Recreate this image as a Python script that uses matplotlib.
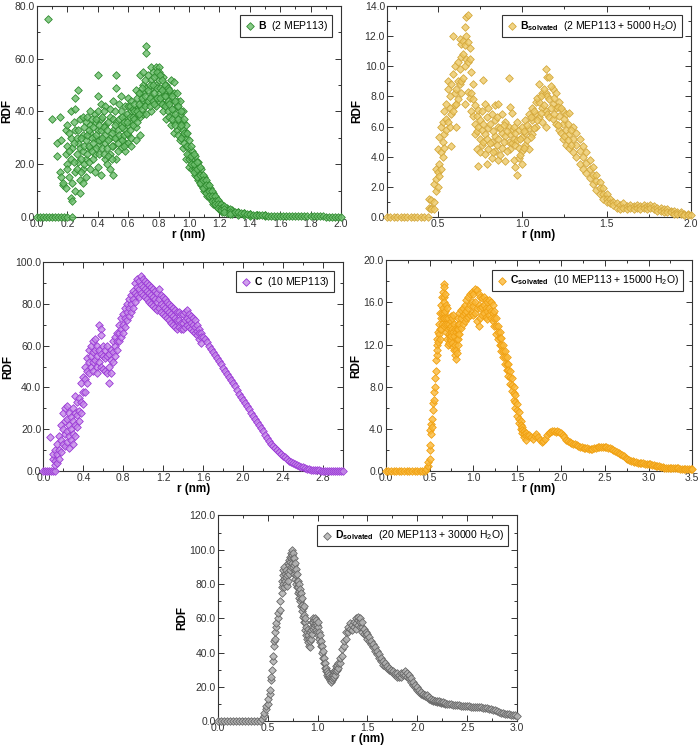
import numpy as np
import matplotlib
matplotlib.use("Agg")
import matplotlib.pyplot as plt
from matplotlib.ticker import MultipleLocator, FormatStrFormatter

plt.rcParams['font.family'] = ['Liberation Sans', 'DejaVu Sans']
plt.rcParams['mathtext.fontset'] = 'custom'
plt.rcParams['mathtext.rm'] = 'Liberation Sans'
plt.rcParams['mathtext.bf'] = 'Liberation Sans:bold'

# ---- panel B (2 MEP113) ----
b_zero_r = [0.00, 0.02, 0.04, 0.06, 0.08, 0.10, 0.12, 0.14, 0.16, 0.18, 0.20]
b_bins = [
    (0.07, [75]), (0.10, [37]), (0.13, [28, 23]), (0.15, [38, 17]),
    (0.16, [15, 29]), (0.17, [12, 13]), (0.19, [11, 24, 33]),
    (0.20, [20, 18, 35, 27]), (0.22, [7, 30, 40, 22]), (0.23, [6, 13, 26, 0]),
    (0.25, [45, 41, 17, 10, 33]), (0.27, [48, 33, 21, 28]),
    (0.28, [14, 9, 26, 37]), (0.30, [38, 25, 18, 13, 31]),
    (0.32, [36, 29, 22, 15]), (0.35, [32, 26, 40, 18, 35]),
    (0.38, [30, 36, 24, 17, 39]), (0.40, [54, 46, 40, 27, 19, 33]),
    (0.42, [33, 37, 16, 29, 43]), (0.45, [42, 35, 28, 22, 31]),
    (0.48, [38, 30, 18, 24, 41]), (0.50, [44, 33, 27, 16, 37]),
    (0.52, [54, 49, 36, 22, 30]), (0.55, [46, 40, 30, 26, 35]),
    (0.58, [38, 33, 25, 28, 42]), (0.60, [45, 42, 35, 28, 31]),
    (0.62, [40, 30, 36, 27, 44]), (0.65, [48, 41, 34, 29, 38]),
    (0.68, [54, 47, 42, 38, 31]), (0.70, [55, 50, 44, 39, 47]),
    (0.72, [65, 62, 49, 43, 39]), (0.75, [57, 52, 46, 40, 49]),
    (0.78, [57, 54, 50, 45, 42]), (0.80, [57, 52, 47, 44, 55]),
    (0.83, [53, 49, 46, 40, 43]), (0.85, [50, 46, 43, 37, 48]),
    (0.88, [52, 44, 39, 35, 47]), (0.90, [51, 47, 41, 36, 32]),
    (0.92, [47, 42, 38, 33, 44]), (0.94, [44, 39, 34, 29, 36]),
    (0.96, [40, 36, 31, 26, 33]), (0.98, [35, 30, 27, 22, 32]),
    (1.00, [29, 26, 22, 19, 24]), (1.02, [25, 22, 18, 20]),
    (1.04, [23, 20, 16, 18]), (1.06, [21, 17, 14, 15]),
    (1.08, [18, 15, 12, 13]), (1.10, [15, 13, 10, 11]),
    (1.12, [13, 10, 8, 11]), (1.14, [11, 9, 7, 8]), (1.16, [9, 7, 5, 6]),
    (1.18, [7, 5, 4, 6]), (1.20, [5.5, 4, 3]), (1.22, [4.5, 3, 2]),
    (1.25, [3.5, 2.5, 1.5]), (1.28, [2.5, 1.8, 1.0]),
    (0.21, [25, 32, 15]), (0.24, [28, 36, 21]), (0.26, [24, 18, 30]),
    (0.29, [22, 30, 17]), (0.31, [27, 34, 20]), (0.33, [24, 31, 38]),
    (0.34, [27, 21, 33]), (0.36, [25, 30, 37]), (0.37, [22, 28, 34]),
    (0.39, [26, 31, 37]), (0.41, [24, 35, 29]), (0.43, [30, 26, 38]),
    (0.44, [24, 34, 40]), (0.46, [26, 33, 20]), (0.47, [29, 36, 23]),
    (0.49, [32, 27, 22]), (0.51, [30, 35, 40]), (0.53, [33, 28, 25]),
    (0.54, [37, 31, 43]), (0.56, [34, 29, 38]), (0.57, [36, 31, 27]),
    (0.59, [32, 39, 36]), (0.61, [38, 33, 42]), (0.63, [41, 35, 38]),
    (0.64, [43, 37, 40]), (0.66, [45, 40, 36]), (0.67, [47, 43, 39]),
    (0.69, [49, 45, 41]), (0.71, [52, 46, 42]), (0.73, [54, 48, 44]),
    (0.74, [50, 45, 42]), (0.76, [55, 50, 44]), (0.77, [53, 47, 43]),
    (0.79, [55, 49, 45]), (0.81, [54, 49, 45]), (0.82, [52, 48, 43]),
    (0.84, [50, 46, 42]), (0.86, [49, 44, 40]), (0.87, [48, 43, 38]),
    (0.89, [46, 41, 37]), (0.91, [44, 39, 35]), (0.93, [42, 37, 31]),
    (0.95, [40, 35, 30]), (0.97, [37, 32, 28]), (0.99, [32, 27, 24]),
    (1.01, [27, 23, 20]), (1.03, [24, 20, 17]), (1.05, [21, 18, 15]),
    (1.07, [19, 16, 13]), (1.09, [16, 14, 11]), (1.11, [14, 12, 9]),
    (1.13, [12, 10, 8]), (1.15, [10, 8, 6]), (1.17, [8, 6, 5]),
    (1.19, [6.5, 5, 3.5]), (1.21, [5, 3.5, 2.5]), (1.23, [4, 3, 2]),
    (1.27, [3, 2, 1.2]), (1.32, [2, 1.4, 0.9]), (1.36, [1.5, 1.0, 0.6]),
    (1.40, [1.2, 0.8, 0.5]), (1.45, [0.9, 0.6]), (1.50, [0.7, 0.4]),
]
b_tail_start = 1.30
b_tail = [2.0, 1.7, 1.5, 1.3, 1.1, 1.0, 0.9, 0.8, 0.7, 0.6, 0.55, 0.5, 0.5,
          0.45, 0.4, 0.4, 0.35, 0.35, 0.3, 0.3, 0.3, 0.3, 0.25, 0.25, 0.25,
          0.2, 0.2, 0.2, 0.2, 0.2, 0.15, 0.15, 0.15, 0.1, 0.1, 0.1]

# ---- panel B solvated (2 MEP113 + 5000 H2O) ----
bs_zero_r = [0.20, 0.22, 0.24, 0.26, 0.28, 0.30, 0.32, 0.34, 0.36, 0.38,
             0.40, 0.42, 0.44]
bs_bins = [
    (0.45, [0.6, 1.2]), (0.46, [0.6, 1.1, 0.5]), (0.48, [0.5, 1.0, 2.2]),
    (0.49, [2.5, 3.2, 1.7]), (0.50, [3.0, 2.0, 4.5]), (0.51, [3.5, 5.3, 2.7]),
    (0.52, [4.3, 6.0, 3.2]), (0.53, [5.0, 4.0, 6.3]), (0.54, [5.5, 7.0, 4.6]),
    (0.55, [6.5, 7.5, 5.8]), (0.56, [8.5, 6.3, 9.0]), (0.57, [7.2, 8.0, 6.0]),
    (0.58, [8.8, 6.8, 4.7]), (0.59, [12.0, 9.5, 7.0]), (0.60, [10.0, 8.2, 7.4]),
    (0.61, [8.5, 7.5, 6.0]), (0.62, [10.3, 9.0, 7.8]), (0.63, [11.8, 9.8, 8.8]),
    (0.64, [11.5, 10.6, 9.0, 8.2]), (0.65, [11.7, 10.8, 9.2]),
    (0.66, [12.6, 11.4, 10.0, 7.5]), (0.67, [13.3, 12.0, 10.5]),
    (0.68, [13.4, 11.6, 10.3, 8.3]), (0.69, [11.2, 10.5, 7.9]),
    (0.70, [9.6, 8.2, 7.0]), (0.71, [8.8, 6.7, 7.8]), (0.72, [7.4, 6.2, 5.5]),
    (0.73, [6.7, 5.7, 4.5]), (0.74, [7.1, 6.0, 3.4]), (0.75, [6.4, 5.2, 4.3]),
    (0.76, [7.0, 5.8, 4.8]), (0.77, [9.1, 6.2, 5.0]), (0.78, [7.5, 5.5, 4.2]),
    (0.79, [6.6, 5.2, 3.5]), (0.80, [7.2, 5.9, 4.5]), (0.82, [6.8, 5.0, 3.9]),
    (0.84, [7.4, 6.4, 5.4, 4.4]), (0.86, [7.5, 6.0, 5.2, 3.8]),
    (0.88, [6.8, 5.6, 4.6]), (0.90, [6.3, 5.4, 3.7]), (0.92, [9.2, 6.0, 5.0]),
    (0.93, [7.3, 5.5, 4.5]), (0.94, [6.9, 5.8, 4.9]), (0.95, [6.0, 5.2, 3.8]),
    (0.96, [5.6, 4.8, 3.3]), (0.97, [6.3, 5.1, 2.8]), (0.98, [5.8, 4.6, 3.9]),
    (1.00, [6.0, 5.3, 4.4, 3.5]), (1.02, [6.4, 5.6, 4.8]),
    (1.04, [6.8, 5.9, 4.5]), (1.06, [7.2, 6.4, 5.5]), (1.08, [7.6, 6.8, 6.0]),
    (1.10, [8.8, 7.6, 6.6]), (1.12, [8.2, 7.2, 6.3]),
    (1.14, [9.8, 8.2, 7.0, 6.0]), (1.15, [9.3, 8.0, 6.8]),
    (1.16, [9.3, 7.8, 6.6]), (1.18, [8.5, 7.5, 6.5]), (1.20, [8.2, 7.2, 6.2]),
    (1.22, [7.6, 6.7, 5.8]), (1.24, [7.0, 6.2, 5.2]), (1.26, [6.8, 5.8, 4.8]),
    (1.28, [6.9, 5.5, 4.6]), (1.30, [6.0, 5.2, 4.3]), (1.32, [5.6, 4.8, 4.0]),
    (1.34, [5.2, 4.4, 3.5]), (1.36, [4.7, 4.0, 3.2]), (1.38, [4.3, 3.6, 2.9]),
    (1.40, [3.8, 3.2, 2.6]), (1.42, [3.3, 2.8, 2.2]), (1.44, [2.8, 2.4, 1.8]),
    (1.46, [2.3, 1.9, 1.5]), (1.48, [1.9, 1.5, 1.2]), (1.50, [1.5, 1.2, 1.0]),
    (1.52, [1.2, 0.9]), (1.54, [1.0, 0.8]), (1.56, [0.9, 0.6]),
    (1.58, [0.8, 0.5]), (1.60, [0.9, 0.6]), (1.62, [0.7, 0.5]),
    (1.64, [0.8, 0.6]), (1.66, [0.7, 0.5]), (1.68, [0.8, 0.6]),
    (1.70, [0.7, 0.5]), (1.72, [0.8, 0.6]), (1.74, [0.7, 0.5]),
    (1.76, [0.8, 0.6]), (1.78, [0.7, 0.5]), (1.80, [0.6, 0.4]),
    (1.82, [0.6, 0.4]), (1.84, [0.5, 0.3]), (1.86, [0.5, 0.3]),
    (1.88, [0.4, 0.3]), (1.90, [0.4, 0.2]), (1.92, [0.3, 0.2]),
    (1.94, [0.3, 0.2]), (1.96, [0.2, 0.1]), (1.98, [0.2, 0.1]), (2.00, [0.1]),
    (0.81, [6.2, 4.9]), (0.83, [5.7, 4.3]), (0.85, [6.6, 4.8]),
    (0.87, [5.9, 4.1]), (0.89, [6.1, 5.0]), (0.91, [5.7, 4.4]),
    (0.99, [5.2, 4.1]), (1.01, [5.7, 4.6]), (1.03, [6.1, 5.1]),
    (1.05, [6.6, 5.3]), (1.07, [7.0, 5.9]), (1.09, [7.9, 6.4]),
    (1.11, [8.0, 6.9]), (1.13, [8.5, 7.4]), (1.17, [8.7, 7.2]),
    (1.19, [7.9, 6.8]), (1.21, [7.3, 6.1]), (1.23, [7.2, 5.6]),
    (1.25, [6.5, 5.4]), (1.27, [6.2, 5.1]), (1.29, [5.8, 4.8]),
]

# ---- panel C (10 MEP113) ----
c_zero_r = [0.00, 0.02, 0.04, 0.06, 0.08, 0.10, 0.12]
c_bins = [
    (0.07, [16.5]), (0.10, [6, 8]), (0.12, [5, 3, 10]), (0.14, [4, 8, 13]),
    (0.16, [17, 10, 6]), (0.18, [22, 15, 9]), (0.20, [28, 20, 13]),
    (0.22, [30, 24, 18, 12]), (0.24, [31, 25, 19, 14]),
    (0.26, [28, 22, 17, 11]), (0.28, [26, 20, 15]),
    (0.30, [30, 24, 18, 13]), (0.32, [36, 28, 22, 17]), (0.34, [33, 27, 21]),
    (0.36, [35, 29, 24]), (0.38, [42, 33, 28]), (0.40, [45, 38, 32]),
    (0.42, [50, 44, 38]), (0.44, [54, 48, 42]), (0.46, [58, 52, 47]),
    (0.48, [60, 55, 50]), (0.50, [62, 57, 52, 48]), (0.52, [63, 58, 53]),
    (0.54, [60, 55, 50, 47]), (0.56, [70, 58, 52]), (0.58, [68, 65, 56, 50]),
    (0.60, [60, 55, 49]), (0.62, [58, 54, 48]), (0.64, [60, 55, 47]),
    (0.66, [56, 50, 42]), (0.68, [58, 53, 47]), (0.70, [62, 57, 52]),
    (0.72, [64, 60, 55]), (0.74, [66, 62, 58]), (0.76, [70, 66, 62]),
    (0.78, [73, 68, 64]), (0.80, [75, 70, 66]), (0.82, [78, 73, 69]),
    (0.84, [80, 76, 72]), (0.86, [82, 78, 74]), (0.88, [84, 80, 76]),
    (0.90, [86, 82, 78]), (0.92, [90, 85, 81]), (0.94, [92, 88, 84]),
    (0.96, [91, 87, 83]), (0.98, [93, 89, 85]), (1.00, [92, 88, 84]),
    (1.02, [91, 87, 83]), (1.04, [90, 86, 82]), (1.06, [89, 85, 81]),
    (1.08, [88, 84, 80]), (1.10, [87, 83, 79]), (1.12, [86, 82, 78]),
    (1.14, [85, 81, 77]), (1.16, [87, 82, 78]), (1.18, [84, 80, 76]),
    (1.20, [83, 79, 75]), (1.22, [82, 78, 74]), (1.24, [81, 77, 73]),
    (1.26, [80, 76, 72]), (1.28, [79, 75, 71]), (1.30, [78, 74, 70]),
    (1.32, [77, 73, 69]), (1.34, [76, 72, 68]), (1.36, [76, 72, 69]),
    (1.38, [75, 71, 68]), (1.40, [75, 71, 68]), (1.42, [76, 72, 69]),
    (1.44, [77, 73, 70]), (1.46, [75, 72, 69]), (1.48, [74, 71, 68]),
    (1.50, [73, 70, 67]), (1.52, [72, 69, 66]), (1.54, [70, 67, 65]),
    (1.56, [68, 66, 63]), (1.58, [66, 64, 61]),
]
c_tail_start = 1.60
c_tail = [64, 63, 61.5, 60, 58.5, 57, 55.5, 54, 52.5, 51, 49.5, 48, 46.5, 45,
          43.5, 42, 40.5, 39, 37, 35.5, 34, 32.5, 31, 29.5, 28, 26.5, 25, 23.5,
          22, 20.5, 19, 17.5, 16, 14.5, 13.2, 12, 11, 10, 9, 8.2, 7.4, 6.6,
          5.8, 5.1, 4.5, 3.9, 3.4, 2.9, 2.5, 2.1, 1.8, 1.5, 1.2, 1.0, 0.8,
          0.7, 0.6, 0.5, 0.4, 0.35, 0.3, 0.3, 0.25, 0.2, 0.2, 0.2, 0.15, 0.15,
          0.1, 0.1, 0.1]

# ---- panel C solvated (10 MEP113 + 15000 H2O) ----
cs_zero_r = [0.00, 0.03, 0.06, 0.09, 0.12, 0.15, 0.18, 0.21, 0.24, 0.27,
             0.30, 0.33, 0.36, 0.39, 0.42, 0.45]
cs_bins = [
    (0.46, [0.2]), (0.48, [0.5, 0.9]), (0.50, [1.2, 2.0]), (0.51, [2.5, 3.9]),
    (0.52, [3.5, 4.5]), (0.53, [5.0, 4.2]), (0.54, [5.8, 6.5]),
    (0.55, [6.8, 7.5]), (0.56, [8.0, 8.8]), (0.57, [9.5, 10.5]),
    (0.58, [11.0, 12.0]), (0.59, [12.5, 11.5]), (0.60, [13.2, 12.3]),
    (0.61, [14.0, 13.0]), (0.62, [15.0, 13.5, 12.5]),
    (0.63, [15.8, 14.5, 13.5]), (0.64, [16.5, 15.0, 14.0]),
    (0.65, [17.0, 15.5, 14.5]), (0.66, [17.8, 16.5, 15.0]),
    (0.67, [17.5, 16.0, 14.5, 13.8]), (0.68, [16.8, 15.2, 14.0]),
    (0.69, [15.8, 14.5, 13.2]), (0.70, [15.5, 14.0, 12.5]),
    (0.71, [14.5, 13.5, 12.0]), (0.72, [14.0, 13.0, 12.2]),
    (0.73, [13.6, 12.8, 12.5]), (0.74, [14.2, 13.2, 12.4]),
    (0.75, [14.7, 13.8, 12.8]), (0.76, [14.5, 13.5, 12.2]),
    (0.77, [14.8, 13.2, 11.8]), (0.78, [14.0, 12.8, 11.5]),
    (0.79, [13.5, 12.0, 11.0]), (0.80, [13.2, 11.5, 10.6]),
    (0.81, [13.5, 12.5, 11.2]), (0.82, [14.0, 13.0, 12.0]),
    (0.83, [14.5, 13.5, 12.5]), (0.84, [15.0, 14.0, 13.0]),
    (0.86, [15.3, 14.5, 13.6]), (0.88, [15.5, 14.8, 14.0]),
    (0.90, [15.8, 15.0, 14.2]), (0.92, [16.2, 15.2, 14.5]),
    (0.94, [16.5, 15.5, 14.6]), (0.96, [16.8, 15.8, 14.8]),
    (0.98, [17.0, 16.0, 15.0]), (1.00, [16.8, 15.7, 14.8]),
    (1.02, [17.3, 16.0, 15.0]), (1.04, [17.2, 15.5, 14.2]),
    (1.06, [16.8, 15.8, 13.8]), (1.08, [16.5, 15.5, 14.5]),
    (1.10, [16.4, 15.6, 14.8]), (1.12, [16.5, 15.8, 15.0]),
    (1.14, [16.2, 15.5, 14.6]), (1.16, [16.0, 15.2, 14.4]),
    (1.18, [16.2, 15.5, 14.8]), (1.20, [16.0, 15.2, 14.5]),
    (1.22, [15.8, 15.0, 14.2]), (1.24, [15.2, 14.5, 13.8]),
    (1.26, [14.5, 13.8, 13.0]), (1.28, [13.8, 13.2, 12.5]),
    (1.30, [13.2, 12.6, 12.0]), (1.32, [12.6, 12.0, 11.4]),
    (1.34, [12.0, 11.4, 10.8]), (1.36, [11.4, 10.8, 10.2]),
    (1.38, [10.8, 10.2, 9.6]), (1.40, [10.2, 9.6, 9.0]),
    (1.42, [9.5, 8.9, 8.3]), (1.44, [8.8, 8.2, 7.6]),
    (1.46, [8.0, 7.4, 6.8]), (1.48, [7.2, 6.6, 6.0]),
    (1.50, [6.4, 5.8, 5.2]), (1.52, [5.6, 5.0, 4.6]),
    (1.54, [4.8, 4.4, 4.0]), (1.56, [4.2, 3.9, 3.6]),
    (1.58, [3.8, 3.5, 3.2]), (1.60, [3.6, 3.3, 3.0]),
]
cs_tail_start = 1.62
cs_tail = [3.3, 3.4, 3.2, 3.1, 3.3, 3.5, 3.2, 3.0, 2.8, 2.9, 3.1, 3.4, 3.6,
           3.7, 3.8, 3.8, 3.7, 3.8, 3.7, 3.6, 3.4, 3.2, 3.0, 2.9, 2.8, 2.7,
           2.6, 2.6, 2.5, 2.4, 2.3, 2.3, 2.2, 2.2, 2.2, 2.1, 2.1, 2.1, 2.2,
           2.2, 2.3, 2.3, 2.3, 2.3, 2.3, 2.3, 2.2, 2.2, 2.1, 2.0, 1.9, 1.8,
           1.7, 1.6, 1.5, 1.4, 1.3, 1.2, 1.1, 1.0, 0.95, 0.9, 0.85, 0.8, 0.8,
           0.75, 0.75, 0.7, 0.7, 0.7, 0.65, 0.6, 0.55, 0.5, 0.5, 0.45, 0.4,
           0.4, 0.35, 0.35, 0.3, 0.3, 0.3, 0.3, 0.3, 0.3, 0.3, 0.25, 0.25,
           0.25, 0.2, 0.2, 0.2, 0.2, 0.2]

# ---- panel D solvated (20 MEP113 + 30000 H2O) ----
d_zero_r = [0.00, 0.03, 0.06, 0.09, 0.12, 0.15, 0.18, 0.21, 0.24, 0.27,
            0.30, 0.33, 0.36, 0.39, 0.42]
d_bins = [
    (0.44, [1]), (0.46, [3, 5]), (0.48, [7, 9]), (0.50, [10, 13]),
    (0.52, [16, 18]), (0.53, [24, 26]), (0.54, [30]), (0.55, [35, 38]),
    (0.56, [44, 47]), (0.57, [48, 52]), (0.58, [55, 57]), (0.60, [60, 63]),
    (0.62, [65, 70]), (0.64, [75, 78, 82]), (0.65, [80, 85, 88]),
    (0.66, [78, 83, 90]), (0.67, [82, 86]), (0.68, [80, 84, 88]),
    (0.69, [79, 85]), (0.70, [82, 87, 92]), (0.71, [86, 91, 94]),
    (0.72, [88, 93, 96]), (0.73, [90, 95, 98]), (0.74, [92, 97, 100]),
    (0.75, [90, 95, 98]), (0.76, [86, 91, 95]), (0.77, [83, 88, 92]),
    (0.78, [80, 85, 89]), (0.79, [78, 82, 86]), (0.80, [75, 78, 82]),
    (0.81, [72, 76, 80]), (0.82, [70, 74, 77]), (0.83, [67, 71, 75]),
    (0.84, [64, 68, 72]), (0.85, [61, 66]), (0.86, [58, 62, 67]),
    (0.87, [53, 58, 60]), (0.88, [50, 55]), (0.89, [48, 52]),
    (0.90, [46, 50, 54]), (0.91, [44, 48]), (0.92, [43, 47, 52]),
    (0.93, [48, 53]), (0.94, [51, 55, 58]), (0.95, [54, 58, 60]),
    (0.96, [55, 59]), (0.97, [56, 60]), (0.98, [53, 57, 59]),
    (0.99, [52, 56]), (1.00, [50, 55, 58]), (1.01, [48, 52]),
    (1.02, [46, 50]), (1.03, [44, 47]), (1.04, [40, 44]), (1.05, [37, 41]),
    (1.06, [34, 37]), (1.07, [31, 34]), (1.08, [29, 31]), (1.09, [27, 29]),
    (1.10, [26, 28]), (1.11, [25, 27]), (1.12, [24, 26]), (1.13, [23, 25]),
    (1.14, [24, 26]), (1.15, [25, 27]), (1.16, [26, 29]), (1.17, [27, 30]),
    (1.18, [29, 32]), (1.19, [30, 33]), (1.20, [31, 34]), (1.22, [34, 37]),
    (1.24, [38, 42]), (1.26, [44, 47]), (1.28, [48, 52]), (1.30, [52, 55]),
    (1.32, [54, 57]), (1.34, [53, 56]), (1.36, [55, 58]),
    (1.38, [54, 57, 60]), (1.40, [56, 59, 61]), (1.42, [55, 58, 60]),
    (1.44, [52, 55, 58]), (1.46, [51, 54]), (1.48, [50, 52]),
    (1.50, [48, 51]), (1.52, [47, 49]), (1.54, [45, 47]), (1.56, [43, 45]),
    (1.58, [41, 43]), (1.60, [39, 41]), (1.62, [37, 39]), (1.64, [35, 37]),
    (1.66, [33, 35]), (1.68, [32, 34]), (1.70, [31, 32]), (1.72, [30, 31]),
    (1.74, [29, 30]), (1.76, [28, 29]), (1.78, [27, 28]), (1.80, [26, 28]),
    (1.82, [26, 27]), (1.84, [26, 28]), (1.86, [27, 28]), (1.88, [27, 29]),
    (1.90, [26, 28]), (1.92, [25, 27]), (1.94, [23, 25]), (1.96, [21, 23]),
    (1.98, [20, 21]), (2.00, [18, 20]), (2.02, [17, 18]), (2.04, [16, 17]),
    (2.06, [15, 16]), (2.08, [14.5, 15]), (2.10, [14, 15]), (2.12, [13, 14]),
    (2.14, [12.5, 13]), (2.16, [12, 12.5]), (2.18, [11.5, 12]),
    (2.20, [11, 11.5]), (2.22, [11, 11.5]), (2.24, [10.5, 11]),
    (2.26, [10.5, 11]), (2.28, [10, 10.5]),
]
d_tail_start = 2.30
d_tail = [10, 9.8, 9.7, 9.6, 9.5, 9.3, 9.2, 9.0, 8.9, 8.8, 8.7, 8.6, 8.5, 8.4,
          8.3, 8.2, 8.1, 8.0, 7.9, 7.8, 7.6, 7.3, 7.0, 6.6, 6.2, 5.8, 5.4,
          5.0, 4.7, 4.4, 4.1, 3.9, 3.7, 3.5, 3.3, 3.1]


def collect(zero_r, bins, tail_start, tail, step=0.02):
    r = list(zero_r) + [b[0] for b in bins for _ in b[1]]
    y = [0.0] * len(zero_r) + [v for b in bins for v in b[1]]
    if tail:
        r += list(tail_start + step * np.arange(len(tail)))
        y += list(tail)
    return np.array(r), np.array(y)


def draw_panel(ax, r, y, face, edge, label, xlim, ylim, xt, yt):
    ax.scatter(r, y, marker='D', s=15, facecolor=face, edgecolor=edge,
               linewidths=0.6, clip_on=False, zorder=3)
    ax.scatter([], [], marker='D', s=15, facecolor=face, edgecolor=edge,
               linewidths=0.6, label=label)
    ax.set_xlim(*xlim)
    ax.set_ylim(*ylim)
    ax.xaxis.set_major_locator(MultipleLocator(xt[0]))
    ax.xaxis.set_minor_locator(MultipleLocator(xt[1]))
    ax.yaxis.set_major_locator(MultipleLocator(yt[0]))
    ax.yaxis.set_minor_locator(MultipleLocator(yt[1]))
    ax.xaxis.set_major_formatter(FormatStrFormatter('%.1f'))
    ax.yaxis.set_major_formatter(FormatStrFormatter('%.1f'))
    ax.tick_params(which='both', direction='in', top=True, right=True,
                   labelsize=7.5, width=0.7, colors='#333333', pad=1.5)
    ax.tick_params(which='major', length=4)
    ax.tick_params(which='minor', length=2)
    for s in ax.spines.values():
        s.set_linewidth(0.8)
        s.set_color('#333333')
    ax.set_xlabel('r (nm)', fontweight='bold', fontsize=8.5, labelpad=0)
    ax.set_ylabel('RDF', fontweight='bold', fontsize=8.5, labelpad=1)
    leg = ax.legend(loc='upper right', fontsize=7.5, frameon=True,
                    fancybox=False, edgecolor='#333333', framealpha=1,
                    handletextpad=0.2, borderpad=0.35, handlelength=1.2,
                    scatterpoints=1, borderaxespad=0.9)
    leg.get_frame().set_linewidth(0.8)


fig = plt.figure(figsize=(7, 7.48), dpi=100)

ax1 = fig.add_axes([0.053, 0.710, 0.434, 0.282])
r, y = collect(b_zero_r, b_bins, b_tail_start, b_tail)
draw_panel(ax1, r, y, (0.42, 0.74, 0.42, 0.8), '#2e8b2e',
           r'$\mathbf{B}$  (2 MEP113)', (0, 2.0), (0, 80), (0.2, 0.1), (20, 10))

ax2 = fig.add_axes([0.553, 0.710, 0.434, 0.282])
r, y = collect(bs_zero_r, bs_bins, 0, [])
draw_panel(ax2, r, y, (0.93, 0.79, 0.40, 0.8), '#d4a83c',
           r'$\mathbf{B}_{\mathbf{solvated}}$  (2 MEP113 + 5000 H$_2$O)',
           (0.2, 2.0), (0, 14), (0.5, 0.25), (2, 1))

ax3 = fig.add_axes([0.062, 0.370, 0.428, 0.280])
r, y = collect(c_zero_r, c_bins, c_tail_start, c_tail)
draw_panel(ax3, r, y, (0.77, 0.53, 0.91, 0.8), '#9a38d6',
           r'$\mathbf{C}$  (10 MEP113)', (0, 3.0), (0, 100), (0.4, 0.2), (20, 10))

ax4 = fig.add_axes([0.551, 0.370, 0.438, 0.282])
r, y = collect(cs_zero_r, cs_bins, cs_tail_start, cs_tail)
draw_panel(ax4, r, y, (0.98, 0.72, 0.22, 0.8), '#f0a010',
           r'$\mathbf{C}_{\mathbf{solvated}}$  (10 MEP113 + 15000 H$_2$O)',
           (0, 3.5), (0, 20), (0.5, 0.25), (4, 2))

ax5 = fig.add_axes([0.311, 0.036, 0.428, 0.275])
r, y = collect(d_zero_r, d_bins, d_tail_start, d_tail)
draw_panel(ax5, r, y, (0.70, 0.70, 0.70, 0.85), '#666666',
           r'$\mathbf{D}_{\mathbf{solvated}}$  (20 MEP113 + 30000 H$_2$O)',
           (0, 3.0), (0, 120), (0.5, 0.25), (20, 10))

fig.savefig('out.png', dpi=100)
